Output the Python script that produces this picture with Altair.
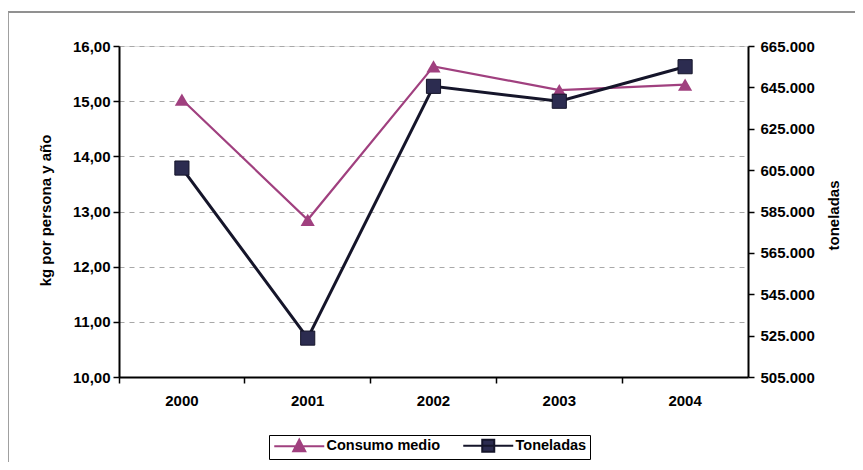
import altair as alt
import pandas as pd

years = ["2000", "2001", "2002", "2003", "2004"]
consumo = [15.03, 12.85, 15.63, 15.20, 15.30]
toneladas = [606000, 523800, 645500, 638300, 655000]
series = ["Consumo medio", "Toneladas"]
left_ticks = [10, 11, 12, 13, 14, 15, 16]
right_ticks = [505000, 525000, 545000, 565000, 585000, 605000, 625000, 645000, 665000]

C1 = "#A0407F"
C2_line = "#15152A"
C2_fill = "#2C2C50"
FONT = "Liberation Sans"

df = pd.DataFrame({"year": years, "consumo": consumo, "toneladas": toneladas})
base = alt.Chart(df)

x_enc = alt.X(
    "year:O",
    bandPosition=0.5,
    scale=alt.Scale(type="band", paddingInner=0, paddingOuter=0),
    axis=alt.Axis(
        title=None, labelAngle=0, bandPosition=0, labelOffset=0,
        domainColor="black", domainWidth=2, tickColor="black", tickWidth=1.5,
        tickSize=6, labelPadding=10, labelFont=FONT, labelFontSize=15,
        labelFontWeight="bold", labelColor="black", grid=False,
    ),
)

y_left = alt.Y(
    "consumo:Q",
    scale=alt.Scale(domain=[10, 16], nice=False, zero=False),
    axis=alt.Axis(
        orient="left", values=left_ticks, title="kg por persona y año",
        labelExpr="replace(format(datum.value, '.2f'), '.', ',')",
        domainColor="black", domainWidth=2, tickColor="black", tickWidth=1.5,
        tickSize=6, labelPadding=3, labelFont=FONT, labelFontSize=15,
        labelFontWeight="bold", labelColor="black",
        titleFont=FONT, titleFontSize=15, titleFontWeight="bold", titleColor="black",
        titleX=-74, titleY=164, titleAngle=270, titleAlign="center", titleBaseline="middle",
        grid=True, gridColor="#a8a8a8", gridDash=[5, 5], gridWidth=1,
    ),
)

y_right = alt.Y(
    "toneladas:Q",
    scale=alt.Scale(domain=[505000, 665000], nice=False, zero=False),
    axis=alt.Axis(
        orient="right", values=right_ticks, title="toneladas",
        labelExpr="replace(format(datum.value, ',.0f'), ',', '.')",
        domainColor="black", domainWidth=2, tickColor="black", tickWidth=1.5,
        tickSize=6, labelPadding=6, labelFont=FONT, labelFontSize=15,
        labelFontWeight="bold", labelColor="black",
        titleFont=FONT, titleFontSize=15, titleFontWeight="bold", titleColor="black",
        titleX=85, titleY=169, titleAngle=270, titleAlign="center", titleBaseline="middle",
        grid=False,
    ),
)

left_line = base.mark_line(color=C1, strokeWidth=2.2).encode(x=x_enc, y=y_left)
left_pts = base.mark_point(shape="triangle-up", filled=True, color=C1, size=200, opacity=1).encode(x=x_enc, y=y_left)
right_line = base.mark_line(color=C2_line, strokeWidth=3).encode(x=x_enc, y=y_right)
right_pts = base.mark_point(shape="square", filled=True, fill=C2_fill, stroke=C2_line, strokeWidth=1, size=200, opacity=1).encode(x=x_enc, y=y_right)

# legend symbols: a line with a marker; 1 unit = 5 px (symbolSize 100)
tri_path = "M-1,0H9M2.8,1.0L4,-1.3L5.2,1.0Z"
sq_path = "M-1,0H9M2.8,-1.2H5.2V1.2H2.8Z"

leg = alt.Legend(
    title=None, orient="none", legendX=150, legendY=389, direction="horizontal",
    strokeColor="black", padding=3, symbolSize=100, symbolStrokeWidth=2,
    labelFont=FONT, labelFontSize=14.5, labelFontWeight="bold", labelColor="black",
    labelOffset=40, columnPadding=18, symbolOpacity=1,
)
legend_df = pd.DataFrame({"serie": series})
legend_layer = alt.Chart(legend_df).transform_filter("false").mark_point(filled=False, strokeWidth=2).encode(
    x=alt.value(0), y=alt.value(0),
    shape=alt.Shape("serie:N", scale=alt.Scale(domain=series, range=[tri_path, sq_path]), legend=leg),
    fill=alt.Fill("serie:N", scale=alt.Scale(domain=series, range=[C1, C2_fill]), legend=leg),
    stroke=alt.Stroke("serie:N", scale=alt.Scale(domain=series, range=[C1, C2_line]), legend=leg),
)

frame_top = alt.Chart(legend_df).mark_rule(color="#8a8a8a", strokeWidth=1.5).encode(
    x=alt.value(-111), x2=alt.value(760), y=alt.value(-34)
)
frame_left = alt.Chart(legend_df).mark_rule(color="#9a9a9a", strokeWidth=1.5).encode(
    x=alt.value(-111), y=alt.value(-34), y2=alt.value(420)
)

left = alt.layer(left_line, left_pts)
right = alt.layer(right_line, right_pts)

chart = alt.layer(frame_top, frame_left, left, right, legend_layer).resolve_scale(
    y="independent"
).properties(
    width=629, height=331,
    autosize=alt.AutoSizeParams(type="none"),
    padding={"left": 111, "top": 38, "right": 107, "bottom": 85},
).configure_view(stroke="black", strokeWidth=2).configure(background="white")

chart.save("out.html", embed_options={"renderer": "svg", "actions": False})
